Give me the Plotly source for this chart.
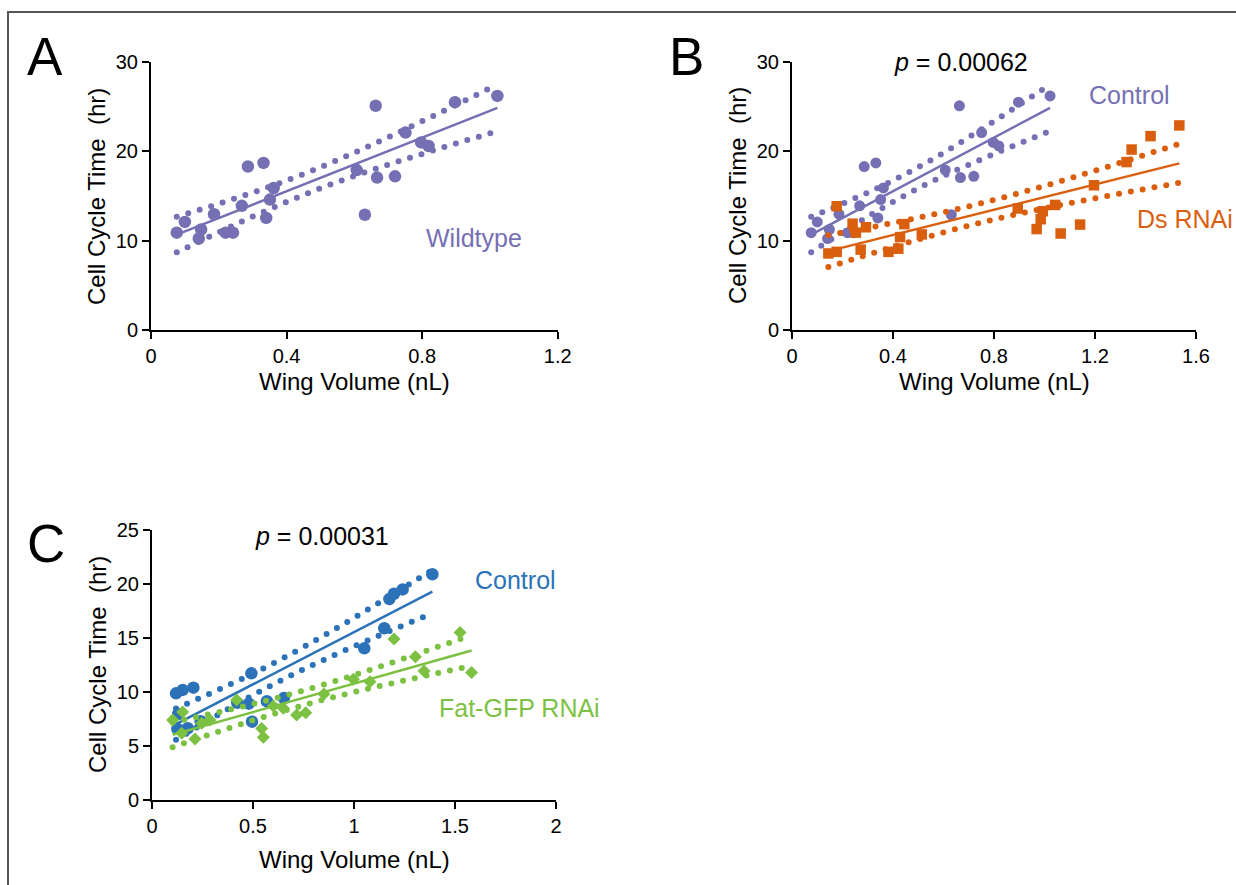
import numpy as np
import plotly.graph_objects as go

W, H = 1236, 885

# ---- data ----
wt_x = [0.076, 0.100, 0.148, 0.141, 0.186, 0.220, 0.242, 0.268, 0.286, 0.332, 0.340, 0.351,
        0.362, 0.607, 0.631, 0.663, 0.667, 0.720, 0.751, 0.797, 0.819, 0.897, 1.022]
wt_y = [10.9, 12.1, 11.25, 10.24, 12.96, 10.9, 10.9, 13.9, 18.3, 18.7, 12.55, 14.6,
        15.9, 17.9, 12.9, 25.1, 17.06, 17.2, 22.1, 21.0, 20.6, 25.5, 26.2]

ds_x = [0.144, 0.177, 0.177, 0.240, 0.253, 0.293, 0.272, 0.382, 0.421, 0.428, 0.445, 0.514,
        0.894, 0.969, 0.985, 0.993, 1.042, 1.064, 1.141, 1.196, 1.325, 1.345, 1.420, 1.534]
ds_y = [8.57, 8.75, 13.85, 11.9, 10.9, 11.5, 9.0, 8.75, 9.1, 10.4, 11.85, 10.7,
        13.6, 11.3, 12.4, 13.3, 14.0, 10.8, 11.8, 16.2, 18.8, 20.2, 21.7, 22.9]

ctl_x = [0.119, 0.152, 0.205, 0.130, 0.125, 0.177, 0.241, 0.422, 0.479, 0.492, 0.495, 0.569,
         0.653, 1.051, 1.150, 1.175, 1.198, 1.241, 1.388]
ctl_y = [9.88, 10.19, 10.4, 7.96, 6.6, 6.64, 7.3, 9.0, 8.92, 11.73, 7.25, 9.14,
         9.44, 14.04, 15.9, 18.6, 19.1, 19.5, 20.9]

fat_x = [0.102, 0.152, 0.147, 0.213, 0.246, 0.287, 0.419, 0.543, 0.551, 0.601, 0.650, 0.716,
         0.761, 0.851, 0.997, 1.079, 1.198, 1.304, 1.347, 1.525, 1.582]
fat_y = [7.4, 8.15, 6.17, 5.65, 7.1, 7.4, 9.26, 6.63, 5.8, 8.7, 8.5, 7.87,
         8.09, 9.81, 11.17, 10.96, 14.9, 13.27, 11.94, 15.5, 11.8]

ticks_ab_y = [0, 10, 20, 30]
ticks_a_x = [0, 0.4, 0.8, 1.2]
ticks_b_x = [0, 0.4, 0.8, 1.2, 1.6]
ticks_c_x = [0, 0.5, 1, 1.5, 2]
ticks_c_y = [0, 5, 10, 15, 20, 25]

PURPLE = "#7570b3"
ORANGE = "#d95f0e"
BLUE = "#2b72b8"
GREEN = "#7dc142"
FONT = "Liberation Sans, Arial, sans-serif"

# t quantile (0.975) for the df used here
T975 = {17: 2.110, 19: 2.093, 21: 2.080, 22: 2.074}


def fit(x, y):
    x = np.asarray(x, float)
    y = np.asarray(y, float)
    n = len(x)
    b, a = np.polyfit(x, y, 1)
    res = y - (a + b * x)
    s = np.sqrt((res ** 2).sum() / (n - 2))
    sxx = ((x - x.mean()) ** 2).sum()
    t = T975.get(n - 2, 2.09)

    def band(xx, sign):
        return a + b * xx + sign * t * s * np.sqrt(1 / n + (xx - x.mean()) ** 2 / sxx)
    return a, b, band, x.min(), x.max()


def dots_along(f, x0, x1, sx, sy, step=12.0):
    # place dots at equal pixel spacing along the band curve
    xx = np.linspace(x0, x1, 2000)
    yy = f(xx)
    d = np.concatenate([[0], np.cumsum(np.hypot(np.diff(xx) * sx, np.diff(yy) * sy))])
    targets = np.arange(0, d[-1] + 0.01, step)
    xs = np.interp(targets, d, xx)
    return xs, f(xs)


fig = go.Figure()


def add_group(x, y, color, symbol, size, xa, ya, sx, sy):
    a, b, band, x0, x1 = fit(x, y)
    for sign in (1, -1):
        bx, by = dots_along(lambda q: band(q, sign), x0, x1, sx, sy)
        fig.add_trace(go.Scatter(x=bx, y=by, mode="markers", xaxis=xa, yaxis=ya,
                                 marker=dict(color=color, size=6), hoverinfo="skip"))
    lx = np.array([x0, x1])
    fig.add_trace(go.Scatter(x=lx, y=a + b * lx, mode="lines", xaxis=xa, yaxis=ya,
                             line=dict(color=color, width=2.5), hoverinfo="skip"))
    fig.add_trace(go.Scatter(x=x, y=y, mode="markers", xaxis=xa, yaxis=ya,
                             marker=dict(color=color, size=size, symbol=symbol)))


# pixel scale of each panel (px per data unit), for dot spacing
add_group(wt_x, wt_y, PURPLE, "circle", 12.5, "x", "y", 406.7 / 1.2, 268 / 30)
add_group(wt_x, wt_y, PURPLE, "circle", 11, "x2", "y2", 404 / 1.6, 268 / 30)
add_group(ds_x, ds_y, ORANGE, "square", 10.5, "x2", "y2", 404 / 1.6, 268 / 30)
add_group(ctl_x, ctl_y, BLUE, "circle", 12.5, "x3", "y3", 404 / 2, 270 / 25)
add_group(fat_x, fat_y, GREEN, "diamond", 10, "x3", "y3", 404 / 2, 270 / 25)

tickfont = dict(family=FONT, size=20, color="black")


def ax(dom, rng, vals, anchor):
    return dict(domain=dom, range=rng, tickvals=vals, ticktext=[f"{v:g}" for v in vals],
                showline=True, linewidth=2, linecolor="black", ticks="outside",
                ticklen=7, tickwidth=2, tickcolor="black", showgrid=False, zeroline=False,
                tickfont=tickfont, anchor=anchor, automargin=False)


ab_y = [1 - 330 / H, 1 - 62 / H]
fig.update_layout(
    width=W, height=H, margin=dict(l=0, r=0, t=0, b=0, autoexpand=False),
    paper_bgcolor="white", plot_bgcolor="white", showlegend=False,
    xaxis=ax([151 / W, 557.7 / W], [0, 1.2], ticks_a_x, "y"),
    yaxis=ax(ab_y, [0, 30], ticks_ab_y, "x"),
    xaxis2=ax([792 / W, 1196 / W], [0, 1.6], ticks_b_x, "y2"),
    yaxis2=ax(ab_y, [0, 30], ticks_ab_y, "x2"),
    xaxis3=ax([152 / W, 556 / W], [0, 2], ticks_c_x, "y3"),
    yaxis3=ax([1 - 800 / H, 1 - 530 / H], [0, 25], ticks_c_y, "x3"),
)


def label(text, px, py, size, color="black", xanchor="center", angle=0):
    fig.add_annotation(text=text, x=px / W, y=1 - py / H, xref="paper", yref="paper",
                       showarrow=False, xanchor=xanchor, yanchor="middle", textangle=angle,
                       font=dict(family=FONT, size=size, color=color))


# axis titles
YT = "Cell Cycle Time\u00a0 (hr)"
XT = "Wing Volume (nL)"
label(YT, 96, 196, 24, angle=-90)
label(YT, 737, 196, 24, angle=-90)
label(YT, 97, 665, 24, angle=-90)
label(XT, 354, 381, 24)
label(XT, 994, 381, 24)
label(XT, 354, 859, 24)

label("A", 45, 57, 53)
label("B", 686, 57, 53)
label("C", 46, 543, 53)
label("<i>p</i> = 0.00062", 892, 62, 25, xanchor="left")
label("<i>p</i> = 0.00031", 253, 536, 25, xanchor="left")
label("Wildtype", 424, 238, 25, PURPLE, xanchor="left")
label("Control", 1087, 95, 25, PURPLE, xanchor="left")
label("Ds RNAi", 1135, 219, 25, ORANGE, xanchor="left")
label("Control", 473, 580, 25, BLUE, xanchor="left")
label("Fat-GFP RNAi", 437, 708, 25, GREEN, xanchor="left")

# thin frame at top/left like the source figure
fig.add_shape(type="rect", xref="paper", yref="paper", x0=8 / W, x1=1.02, y0=-0.02,
              y1=1 - 12 / H, line=dict(color="#555555", width=2), layer="above")

fig.write_html(
    "out.html",
    config={"displayModeBar": False},
    post_script="document.body.style.margin='0';document.body.style.overflow='hidden';",
)
